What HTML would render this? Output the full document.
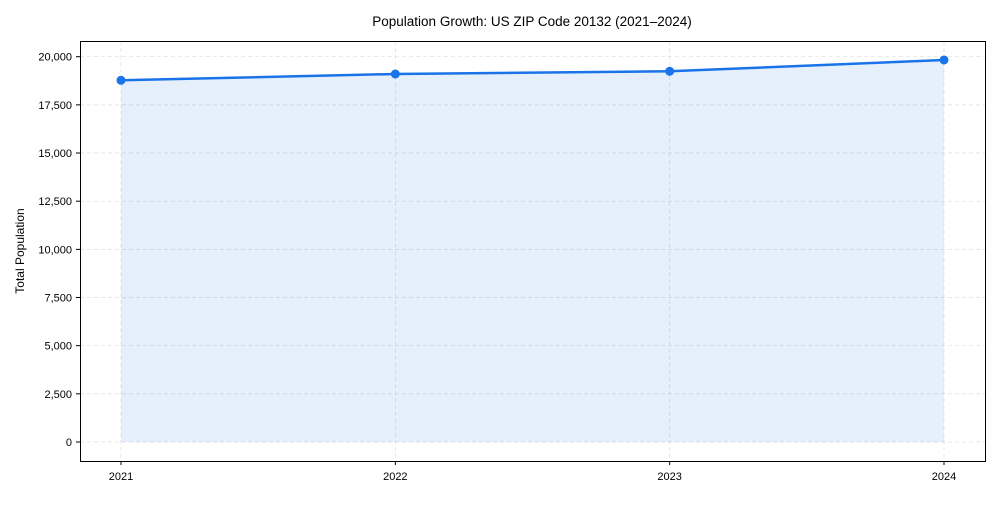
<!DOCTYPE html>
<html><head><meta charset="utf-8"><style>
body{margin:0;background:#fff;font-family:"Liberation Sans",sans-serif}
svg text{font-family:"Liberation Sans",sans-serif;fill:#000}
</style></head><body>
<svg id="chart" width="1000" height="500">
<text x="532" y="26" font-size="13.5" text-anchor="middle">Population Growth: US ZIP Code 20132 (2021–2024)</text>
<text transform="translate(24,251) rotate(-90)" font-size="12" text-anchor="middle">Total Population</text>
<g id="grid"></g><g id="marks"></g><g id="axes"></g>
<rect x="80.5" y="41.5" width="905" height="420" fill="none" stroke="#000" stroke-width="1"/>
</svg>
<script>
const years=["2021","2022","2023","2024"];
const population=[18775,19102,19242,19829];
const yTicks=[0,2500,5000,7500,10000,12500,15000,17500,20000];
const ns="http://www.w3.org/2000/svg";
function xS(i){return 121+i*(944-121)/(years.length-1);}
function yS(v){return 442-v*(442-56.7)/20000;}
function mk(t,a,p){const e=document.createElementNS(ns,t);for(const k in a)e.setAttribute(k,a[k]);p.appendChild(e);return e;}
const grid=document.getElementById('grid'),marks=document.getElementById('marks'),axes=document.getElementById('axes');
yTicks.forEach(v=>{
 const g=mk('line',{x1:80,x2:985,y1:yS(v),y2:yS(v),stroke:'#ddd','stroke-dasharray':'4,3','stroke-width':0.7},grid);
 
 
 const tk=mk('line',{x1:76,x2:80,y1:yS(v),y2:yS(v),stroke:'#000'},axes);
 
 
 const t=mk('text',{x:72,y:yS(v)+4,'font-size':11,'text-anchor':'end'},axes);
 t.textContent=v.toLocaleString('en-US');
 
 
});
years.forEach((y,i)=>{
 const g=mk('line',{x1:xS(i),x2:xS(i),y1:41,y2:461,stroke:'#ddd','stroke-dasharray':'4,3','stroke-width':0.7},grid);
 
 
 const tk=mk('line',{x1:xS(i),x2:xS(i),y1:461,y2:465,stroke:'#000'},axes);
 
 
 const t=mk('text',{x:xS(i),y:480,'font-size':11,'text-anchor':'middle'},axes);
 t.textContent=y;
 
 
});
let pts=population.map((v,i)=>xS(i)+','+yS(v)).join(' ');
const area=mk('polygon',{points:xS(0)+','+yS(0)+' '+pts+' '+xS(years.length-1)+','+yS(0),fill:'#1a73e8','fill-opacity':0.11},marks);


const line=mk('polyline',{points:pts,fill:'none',stroke:'#1a73e8','stroke-width':2.5},marks);


population.forEach((v,i)=>{
 const c=mk('circle',{cx:xS(i),cy:yS(v),r:4.5,fill:'#1a73e8'},marks);
 
 
});
</script>
</body></html>
